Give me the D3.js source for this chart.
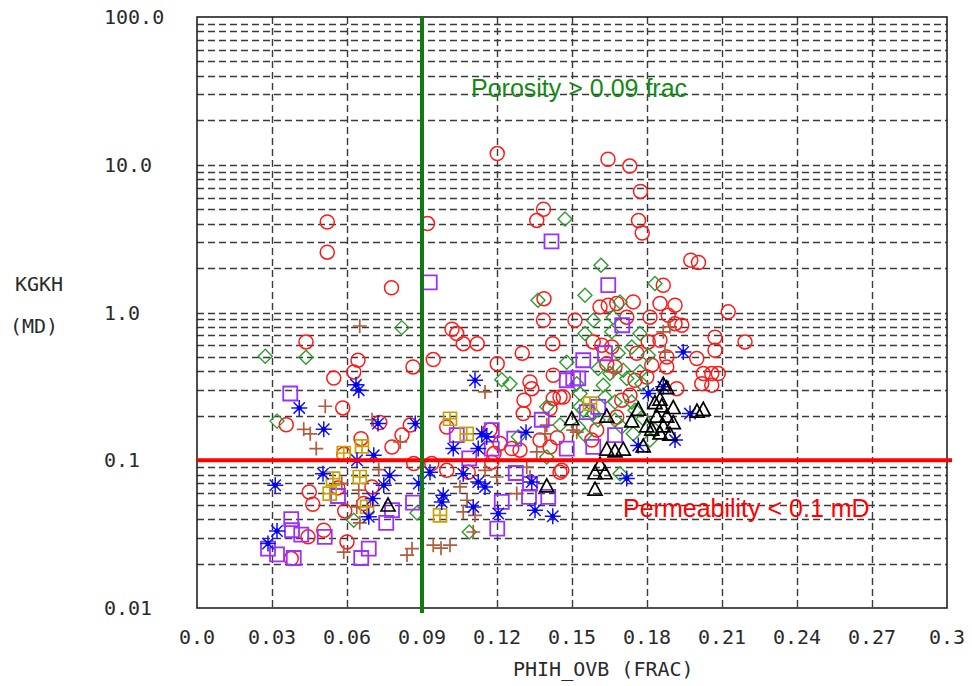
<!DOCTYPE html>
<html>
  <head>
    <meta charset="utf-8">
    <title>KGKH vs PHIH_OVB</title>
    <script src="https://d3js.org/d3.v7.min.js"></script>
    <style>
      body { margin: 0; background: #fff; }
      .tick-label, .axis-title { font-family: "DejaVu Sans Mono", monospace; font-size: 20px; fill: #2a2a2a; }
      .note { font-family: "Liberation Sans", Arial, sans-serif; font-size: 25px; }
    </style>
  </head>
  <body>
    <div id="chart"></div>
    <script>

      // tick labels
      const xTicks = [0, 0.03, 0.06, 0.09, 0.12, 0.15, 0.18, 0.21, 0.24, 0.27, 0.3];
      const xTickLabels = ["0.0", "0.03", "0.06", "0.09", "0.12", "0.15", "0.18", "0.21", "0.24", "0.27", "0.3"];
      const yTicks = [100, 10, 1, 0.1, 0.01];
      const yTickLabels = ["100.0", "10.0", "1.0", "0.1", "0.01"];

      // cutoffs
      const porosityCutoff = 0.09;
      const permCutoff = 0.1;

      // [PHIH_OVB, KGKH] per symbol group
      const redCircles = [
        [0.0521,4.1],[0.0521,2.56],[0.0778,1.47],[0.0922,4.0],[0.1201,11.9],[0.1644,10.9],[0.1731,9.8],[0.1774,6.6],
        [0.1386,5.0],[0.1359,4.2],[0.1766,4.2],[0.1781,3.45],[0.1975,2.26],[0.2006,2.18],[0.1388,1.24],[0.1386,0.886],
        [0.0436,0.632],[0.0644,0.475],[0.0627,0.396],[0.0864,0.428],[0.0547,0.36],[0.0583,0.226],[0.0357,0.174],
        [0.0656,0.140],[0.078,0.123],[0.082,0.148],[0.0853,0.173],[0.0731,0.180],[0.0587,0.110],[0.0867,0.095],
        [0.0563,0.065],[0.0449,0.061],[0.0463,0.0504],[0.0591,0.0454],[0.0667,0.051],[0.0507,0.0336],[0.0444,0.0303],
        [0.06,0.028],[0.0377,0.0216],[0.07,0.066],
        [0.1039,0.72],[0.1065,0.615],[0.1121,0.615],[0.0945,0.48],[0.1201,0.45],[0.1301,0.53],[0.1423,0.615],
        [0.1425,0.376],[0.1332,0.339],[0.1339,0.305],[0.1308,0.255],[0.1305,0.207],[0.1425,0.262],[0.1452,0.268],
        [0.1412,0.224],[0.1441,0.142],[0.1212,0.130],[0.1188,0.111],[0.1179,0.097],[0.1259,0.120],[0.1292,0.117],
        [0.0999,0.168],[0.0999,0.0855],[0.0939,0.095],[0.1452,0.083],[0.1085,0.083],[0.102,0.77],
        [0.1865,1.53],[0.2125,1.01],[0.2192,0.632],[0.2072,0.68],[0.2072,0.555],[0.1512,0.886],[0.1612,1.09],
        [0.1645,1.12],[0.1679,1.15],[0.1745,1.18],[0.1852,1.15],[0.1912,1.12],[0.1812,0.93],[0.1885,0.958],
        [0.1912,0.84],[0.1939,0.82],[0.1719,0.93],[0.1619,0.60],[0.1659,0.585],[0.1805,0.632],[0.1852,0.649],
        [0.1759,0.53],[0.1879,0.50],[0.1999,0.488],[0.1819,0.44],[0.1879,0.428],[0.2025,0.386],[0.2059,0.386],
        [0.2085,0.386],[0.2019,0.33],[0.2059,0.322],[0.1919,0.305],[0.1639,0.45],[0.1672,0.428],[0.1752,0.348],
        [0.1799,0.366],[0.1465,0.268],[0.1699,0.255],[0.1732,0.275],[0.1679,0.196],[0.1599,0.160],[0.1459,0.0855],
        [0.1579,0.137],[0.1585,0.632],[0.1372,0.137],[0.1412,0.123],[0.1172,0.160]
      ];

      const greenDiamonds = [
        [0.1472,4.3],[0.1616,2.09],[0.1364,1.21],[0.0819,0.79],[0.0273,0.506],[0.0436,0.497],[0.032,0.184],
        [0.0627,0.0393],[0.088,0.044],[0.1219,0.35],[0.1252,0.33],[0.1479,0.46],[0.1452,0.173],[0.1399,0.105],
        [0.1285,0.144],[0.1089,0.0327],[0.1532,0.23],[0.1585,0.207],[0.1832,1.57],[0.1552,1.31],[0.1692,1.18],
        [0.1585,0.886],[0.1665,0.93],[0.1552,0.72],[0.1659,0.74],[0.1772,0.72],[0.1739,0.585],[0.1685,0.53],
        [0.1805,0.514],[0.1605,0.418],[0.1652,0.386],[0.1705,0.407],[0.1719,0.358],[0.1772,0.397],[0.1779,0.33],
        [0.1519,0.33],[0.1532,0.283],[0.1625,0.322],[0.1632,0.268],[0.1672,0.248],[0.1739,0.248],[0.1752,0.218],
        [0.1785,0.191],[0.1545,0.218],[0.1604,0.187],[0.1672,0.187],[0.1699,0.168],[0.1525,0.168],[0.1552,0.148],
        [0.1832,0.160],[0.1812,0.137],[0.1692,0.081],[0.1745,0.151],[0.1399,0.23]
      ];

      const purpleSquares = [
        [0.1418,3.03],[0.0931,1.6],[0.0373,0.283],[0.0564,0.0573],[0.0864,0.0517],[0.078,0.0459],[0.0757,0.0377],
        [0.0377,0.04],[0.038,0.0336],[0.0417,0.0314],[0.0511,0.0303],[0.0284,0.0252],[0.032,0.0231],[0.0387,0.0218],
        [0.0657,0.0218],[0.0687,0.0252],[0.1039,0.148],[0.1179,0.160],[0.1179,0.12],[0.1269,0.140],[0.1379,0.188],
        [0.1479,0.12],[0.1559,0.212],[0.1545,0.475],[0.1479,0.348],[0.1525,0.358],[0.1275,0.082],[0.1332,0.0695],
        [0.1328,0.0565],[0.1405,0.0565],[0.1219,0.0522],[0.1201,0.0345],[0.1585,0.123],[0.1089,0.103],
        [0.1645,1.53],[0.1701,0.82],[0.1632,0.53],[0.1605,0.23],[0.1672,0.148],[0.1505,0.358]
      ];

      const goldSquares = [
        [0.0587,0.112],[0.066,0.124],[0.0651,0.077],[0.0544,0.0752],[0.0531,0.0595],[0.068,0.0483],
        [0.1012,0.191],[0.1079,0.151],[0.0972,0.0424],[0.1572,0.242]
      ];

      const brownPlus = [
        [0.0651,0.81],[0.0513,0.232],[0.07,0.188],[0.0427,0.162],[0.0453,0.151],[0.0477,0.12],[0.0727,0.0865],
        [0.0647,0.0627],[0.0813,0.133],[0.0587,0.0239],[0.086,0.0252],[0.084,0.0228],[0.0651,0.0377],
        [0.1152,0.29],[0.1359,0.114],[0.1319,0.09],[0.1332,0.077],[0.1279,0.0595],[0.1152,0.0855],[0.1199,0.077],
        [0.1052,0.066],[0.1065,0.0447],[0.1112,0.0424],[0.1105,0.0327],[0.0945,0.0266],[0.1012,0.0266],
        [0.1399,0.173],[0.1519,0.155],[0.1892,0.80],[0.1865,0.74],[0.1872,0.54],[0.1665,0.397],[0.1505,0.160],
        [0.1392,0.151],[0.108,0.0536],[0.0976,0.0254],[0.0639,0.0483],[0.0579,0.0695]
      ];

      const blueStars = [
        [0.0409,0.226],[0.0647,0.298],[0.0636,0.324],[0.0507,0.162],[0.0724,0.177],[0.0873,0.177],[0.0707,0.108],
        [0.064,0.100],[0.0313,0.0677],[0.0504,0.081],[0.0771,0.079],[0.0747,0.0677],[0.0887,0.0695],[0.0703,0.0551],
        [0.0687,0.0414],[0.032,0.0332],[0.0284,0.0273],[0.1112,0.348],[0.1025,0.12],[0.1139,0.151],[0.1159,0.144],
        [0.1125,0.12],[0.1316,0.155],[0.0932,0.083],[0.1065,0.081],[0.1125,0.0713],[0.1152,0.066],[0.0985,0.058],
        [0.0979,0.0522],[0.1105,0.0483],[0.1205,0.0436],[0.1352,0.0459],[0.1423,0.0418],[0.1339,0.0713],
        [0.1945,0.54],[0.1865,0.314],[0.1805,0.283],[0.1972,0.207],[0.1912,0.137],[0.1765,0.126],[0.1719,0.0752]
      ];

      const blackTriangles = [
        [0.0764,0.049],[0.1499,0.188],[0.1399,0.066],[0.1592,0.081],[0.1592,0.0627],[0.1865,0.322],[0.1879,0.305],
        [0.1832,0.242],[0.1852,0.255],[0.1859,0.23],[0.1905,0.224],[0.2025,0.218],[0.1839,0.196],[0.1879,0.196],
        [0.1905,0.177],[0.1865,0.168],[0.1852,0.151],[0.1892,0.148],[0.1765,0.218],[0.1639,0.196],[0.1739,0.182],
        [0.1799,0.168],[0.1819,0.160],[0.1705,0.117],[0.1639,0.117],[0.1672,0.114],[0.1785,0.123],[0.1612,0.0925],
        [0.1632,0.081],[0.2,0.212]
      ];

      const width = 972, height = 686;
      const plot = {left: 197, right: 947, top: 17, bottom: 608};

      const svg = d3.select("#chart").append("svg")
          .attr("width", width)
          .attr("height", height);

      const x = d3.scaleLinear().domain([0, 0.3]).range([plot.left, plot.right]);
      const y = d3.scaleLog().domain([0.01, 100]).range([plot.bottom, plot.top]);

      // dashed grid: every 1..9 step of each decade, and every x tick
      const gridY = [];
      [0.01, 0.1, 1, 10].forEach(dec => d3.range(1, 10).forEach(k => gridY.push(dec * k)));
      const grid = svg.append("g")
          .attr("stroke", "#3a3a3a")
          .attr("stroke-width", 1.4)
          .attr("stroke-dasharray", "7,4");
      grid.selectAll(".gy")
          .data(gridY.filter(v => v > 0.01))
          .enter().append("line")
          .attr("x1", plot.left).attr("x2", plot.right)
          .attr("y1", d => Math.round(y(d)) + 0.5).attr("y2", d => Math.round(y(d)) + 0.5);
      grid.selectAll(".gx")
          .data(xTicks.slice(1, -1))
          .enter().append("line")
          .attr("x1", d => Math.round(x(d)) + 0.5).attr("x2", d => Math.round(x(d)) + 0.5)
          .attr("y1", plot.top).attr("y2", plot.bottom);

      svg.append("rect")
          .attr("x", plot.left).attr("y", plot.top)
          .attr("width", plot.right - plot.left)
          .attr("height", plot.bottom - plot.top)
          .attr("fill", "none")
          .attr("stroke", "#222")
          .attr("stroke-width", 1.6);

      // tick labels
      svg.selectAll(".xl")
          .data(xTicks)
          .enter().append("text")
          .attr("class", "tick-label")
          .attr("x", d => x(d))
          .attr("y", 644)
          .attr("text-anchor", "middle")
          .text((d, i) => xTickLabels[i]);

      svg.selectAll(".yl")
          .data(yTicks)
          .enter().append("text")
          .attr("class", "tick-label")
          .attr("x", 104)
          .attr("y", d => y(d) + 7)
          .text((d, i) => yTickLabels[i]);

      svg.append("text").attr("class", "axis-title").attr("x", 15).attr("y", 291).text("KGKH");
      svg.append("text").attr("class", "axis-title").attr("x", 10).attr("y", 333).text("(MD)");
      svg.append("text").attr("class", "axis-title").attr("x", 513).attr("y", 676).text("PHIH_OVB (FRAC)");

      // symbol paths
      const tx = d => `translate(${x(d[0])},${y(d[1])})`;
      const circlePath = "M7,0A7,7 0 1,1 -7,0A7,7 0 1,1 7,0Z";
      const diamondPath = "M0,-7L7,0L0,7L-7,0Z";
      const squarePath = "M-7,-7H7V7H-7Z";
      const goldPath = "M-6.5,-6.5H6.5V6.5H-6.5ZM0,-6.5V6.5M-6.5,0H6.5";
      const plusPath = "M-7,0H7M0,-7V7";
      const starPath = "M-8,0H8M0,-8V8M-5.7,-5.7L5.7,5.7M-5.7,5.7L5.7,-5.7";
      const trianglePath = "M0,-8L7,5L-7,5Z";

      function drawGroup(data, path, color, sw) {
        svg.append("g").selectAll("path")
            .data(data)
            .enter().append("path")
            .attr("transform", tx)
            .attr("d", path)
            .attr("fill", "none")
            .attr("stroke", color)
            .attr("stroke-width", sw);
      }

      drawGroup(redCircles, circlePath, "#ff1a1a", 1.5);
      drawGroup(greenDiamonds, diamondPath, "#2f9a2f", 1.4);
      drawGroup(brownPlus, plusPath, "#b25c3e", 1.7);
      drawGroup(purpleSquares, squarePath, "#9b30ff", 1.8);
      drawGroup(goldSquares, goldPath, "#c8a200", 1.7);
      drawGroup(blueStars, starPath, "#1010ff", 1.5);
      svg.append("g").selectAll("circle")
          .data(blueStars)
          .enter().append("circle")
          .attr("cx", d => x(d[0])).attr("cy", d => y(d[1]))
          .attr("r", 2.5)
          .attr("fill", "#0000ee");
      drawGroup(blackTriangles, trianglePath, "#000", 1.7);

      // cutoff lines
      svg.append("line")
          .attr("x1", x(0)).attr("x2", x(0.3) + 5)
          .attr("y1", y(permCutoff)).attr("y2", y(permCutoff))
          .attr("stroke", "#ff0000")
          .attr("stroke-width", 4);
      svg.append("line")
          .attr("x1", x(porosityCutoff)).attr("x2", x(porosityCutoff))
          .attr("y1", y(100)).attr("y2", y(0.01) + 5)
          .attr("stroke", "#127a12")
          .attr("stroke-width", 4);

      svg.append("text").attr("class", "note")
          .attr("x", 471).attr("y", 97)
          .attr("fill", "#138a13")
          .text("Porosity > 0.09 frac");
      svg.append("text").attr("class", "note")
          .attr("x", 623).attr("y", 517)
          .attr("fill", "#ff0000")
          .text("Permeability < 0.1 mD");

    </script>
  </body>
</html>
